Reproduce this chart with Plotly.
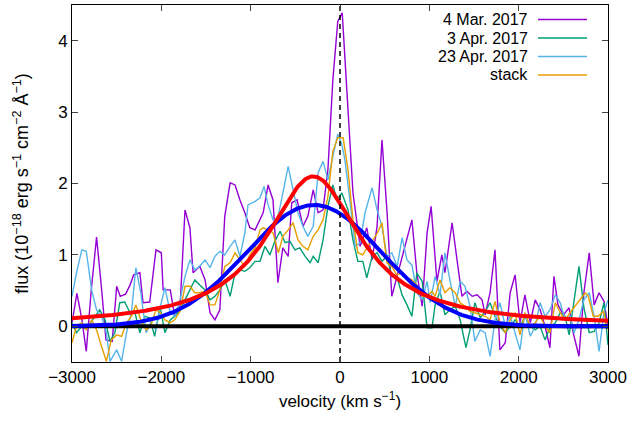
import plotly.graph_objects as go
import numpy as np

# ---------------- data ----------------
mar4_v = [-3000, -2945, -2890, -2840, -2785, -2725, -2665, -2620, -2550, -2500, -2460, -2400, -2350, -2310,
          -2240, -2205, -2130, -2060, -2000, -1980, -1900, -1850, -1790, -1735, -1680, -1645, -1570, -1510,
          -1455, -1400, -1345, -1290, -1230, -1175, -1120, -1065, -1010, -950, -860, -805, -750, -695, -640,
          -580, -540, -480, -415, -360, -300, -245, -190, -135, -80, -25, 25, 80, 145, 225, 300, 360, 415,
          470, 525, 580, 640, 695, 750, 805, 860, 920, 975, 1020, 1085, 1140, 1175, 1255, 1310, 1365, 1420,
          1480, 1535, 1590, 1625, 1680, 1735, 1790, 1850, 1905, 1960, 2015, 2070, 2130, 2185, 2240, 2295,
          2350, 2395, 2440, 2500, 2565, 2610, 2675, 2730, 2790, 2845, 2900, 2955, 3000]
mar4_f = [0.05, 0.46, 0.10, -0.35, 0.50, 1.25, 0.47, -0.19, -0.21, 0.56, 0.42, 0.45, 0.58, 0.72,
          0.75, 0.33, 0.34, 1.07, 1.03, 0.51, 0.51, 0.14, 0.28, 1.63, 1.38, 0.75, 0.84, 0.65,
          0.19, 0.09, 0.23, 1.54, 2.01, 1.98, 1.77, 1.59, 1.38, 1.35, 1.59, 1.98, 1.77, 0.61, 1.10,
          0.98, 1.73, 1.77, 1.40, 1.54, 1.91, 1.59, 1.63, 2.20, 3.45, 4.27, 4.39, 3.17, 1.87, 1.12, 1.38, 0.93, 1.40,
          2.61, 1.63, 0.42, 0.70, 0.96, 1.21, 1.49, 0.75, 0.28, 1.31, 1.68, 0.63, 1.00, 0.75, 1.45, 0.93, 0.42, 0.49,
          0.42, 0.44, 0.37, 0.16, 0.47, 1.07, -0.33, -0.23, 0.47, 0.72, 0.05, 0.44, 0.05, 0.37, 0.23, 0.00,
          -0.30, 0.70, 0.30, 0.16, 0.26, -0.09, -0.42, 0.47, 1.03, 0.30, 0.47, 0.35, 0.00]

apr3_v = [-3000, -2950, -2890, -2840, -2770, -2690, -2630, -2575, -2520, -2465, -2410, -2350, -2295, -2240,
          -2185, -2130, -2075, -2015, -1960, -1900, -1850, -1790, -1735, -1680, -1625, -1570, -1510, -1455,
          -1400, -1345, -1290, -1230, -1175, -1120, -1065, -1010, -950, -895, -840, -785, -730, -670, -615,
          -560, -505, -450, -390, -335, -300, -245, -190, -135, -80, -35, 20, 90, 145, 200, 255, 300, 360,
          415, 470, 525, 580, 640, 695, 750, 805, 860, 920, 975, 1030, 1065, 1120, 1175, 1230, 1290, 1345,
          1410, 1455, 1510, 1570, 1625, 1680, 1735, 1790, 1850, 1905, 1960, 2015, 2070, 2130, 2185, 2240,
          2295, 2350, 2410, 2465, 2520, 2565, 2620, 2675, 2730, 2790, 2845, 2900, 2955, 3000]
apr3_f = [0.05, -0.09, 0.00, -0.04, 0.09, 0.23, 0.09, -0.21, -0.09, 0.33, 0.34, 0.19, 0.19, -0.09,
          0.14, 0.12, -0.14, 0.28, -0.09, 0.09, 0.14, 0.23, 0.37, 0.51, 0.65, 0.58, 0.51, 0.37,
          0.42, 0.51, 0.65, 0.42, 0.75, 0.79, 0.77, 0.82, 0.91, 0.91, 1.12, 1.00, 1.19, 1.33, 1.17,
          1.19, 1.07, 1.10, 0.98, 0.89, 0.98, 0.89, 1.21, 1.68, 1.98, 1.77, 1.87, 1.63, 1.21, 0.91, 0.91, 0.68, 0.98,
          1.03, 0.91, 0.98, 0.70, 0.68, 0.44, 0.30, 0.14, 0.75, 0.63, -0.02, -0.02, 0.30, 0.49, 0.16, 0.23, 0.28, 0.09,
          -0.30, -0.05, 0.33, 0.12, 0.21, 0.33, 0.14, 0.00, -0.09, 0.00, 0.09, 0.00, 0.14, 0.00, -0.05, 0.00,
          -0.19, -0.02, 0.05, 0.19, 0.14, -0.12, 0.33, 0.84, 0.26, -0.09, -0.07, 0.05, 0.33, -0.26]

apr23_v = [-3000, -2950, -2890, -2840, -2780, -2725, -2670, -2615, -2575, -2500, -2445, -2390, -2335, -2285,
           -2230, -2170, -2120, -2060, -2010, -1960, -1900, -1850, -1790, -1735, -1680, -1625, -1570, -1510,
           -1455, -1400, -1345, -1290, -1230, -1175, -1120, -1065, -1030, -950, -895, -850, -805, -750, -700,
           -640, -580, -525, -470, -415, -360, -300, -245, -190, -135, -80, -25, 20, 55, 110, 170, 225, 280,
           360, 415, 470, 525, 580, 640, 695, 750, 805, 860, 920, 975, 1010, 1065, 1120, 1175, 1230, 1290,
           1345, 1400, 1455, 1510, 1570, 1625, 1680, 1735, 1790, 1850, 1905, 1960, 2015, 2070, 2130, 2185,
           2240, 2295, 2350, 2410, 2465, 2520, 2575, 2620, 2675, 2730, 2790, 2845, 2900, 2955, 3000]
apr23_f = [0.42, 0.75, 1.07, 1.05, 0.51, 0.23, 0.14, -0.09, -0.49, -0.33, -0.49, -0.09, 0.19, 0.82,
           0.47, -0.09, 0.05, -0.05, 0.28, 0.54, 0.19, 0.14, 0.37, 0.70, 0.93, 0.79, 0.84, 0.93,
           0.82, 0.98, 1.05, 1.00, 1.12, 1.21, 0.98, 1.31, 1.70, 1.75, 1.80, 1.96, 1.70, 1.49, 1.49,
           1.87, 2.24, 1.91, 1.59, 1.40, 1.26, 1.40, 2.15, 2.31, 2.05, 2.38, 2.69, 2.55, 2.33, 1.77, 1.12, 1.17, 1.59,
           1.94, 1.63, 1.40, 0.98, 1.03, 0.84, 1.24, 0.93, 0.86, 0.47, 0.37, 0.63, 0.33, 0.70, 0.44, 1.03, 0.65, 0.28,
           0.63, 0.56, 0.28, -0.21, -0.05, -0.09, -0.42, 0.09, 0.33, 0.00, 0.14, -0.09, -0.33, 0.19, -0.14, 0.00,
           0.33, 0.14, 0.23, 0.44, 0.33, 0.09, 0.14, -0.09, 0.09, 0.37, 0.47, 0.14, -0.35, 0.19, 0.37]

stack_v = [-3000, -2950, -2890, -2840, -2780, -2725, -2670, -2615, -2560, -2500, -2445, -2390, -2335, -2285,
           -2230, -2170, -2120, -2060, -2010, -1960, -1900, -1850, -1790, -1735, -1680, -1625, -1570, -1510,
           -1455, -1400, -1345, -1290, -1230, -1175, -1120, -1065, -1010, -950, -895, -860, -805, -750, -690,
           -640, -580, -525, -470, -415, -360, -300, -245, -190, -135, -80, -25, 35, 90, 145, 200, 255, 310,
           370, 420, 470, 525, 580, 635, 695, 750, 805, 860, 920, 975, 1030, 1065, 1120, 1175, 1230, 1290,
           1345, 1400, 1455, 1510, 1570, 1625, 1680, 1735, 1790, 1850, 1905, 1960, 2015, 2070, 2130, 2185,
           2240, 2295, 2350, 2410, 2465, 2520, 2575, 2630, 2690, 2745, 2780, 2835, 2890, 2950, 3000]
stack_f = [-0.23, 0.00, 0.05, -0.05, 0.09, -0.05, -0.28, -0.49, -0.19, -0.12, -0.14, 0.05, 0.14, 0.30,
           0.09, -0.05, 0.00, 0.23, 0.19, 0.09, 0.05, 0.09, 0.21, 0.56, 0.56, 0.47, 0.47, 0.49,
           0.30, 0.30, 0.51, 0.84, 0.89, 1.03, 0.93, 0.84, 1.00, 1.10, 1.35, 1.38, 1.35, 1.31, 1.03,
           1.26, 1.35, 1.45, 1.21, 1.12, 1.07, 1.26, 1.35, 1.49, 1.82, 2.45, 2.64, 2.64, 2.19, 1.49, 1.03, 1.00, 1.12,
           1.21, 1.31, 1.45, 0.89, 0.84, 0.72, 0.75, 0.68, 0.65, 0.58, 0.42, 0.42, 0.49, 0.42, 0.65, 0.47, 0.54, 0.47,
           0.33, 0.28, 0.21, 0.19, 0.16, 0.14, 0.09, 0.35, 0.05, -0.09, 0.09, 0.19, -0.12, 0.19, 0.00, 0.05,
           0.14, 0.00, -0.09, 0.33, 0.19, 0.09, 0.19, 0.28, 0.37, 0.47, 0.42, 0.14, 0.14, 0.21, -0.05]

# fitted-profile parameters (amplitude, centre km/s, width km/s)
gauss_fit = dict(amp=1.70, cen=-290.0, sigma=760.0)
lorentz_fit = dict(amp=2.10, cen=-300.0, gamma=640.0)

x_ticks = [-3000, -2000, -1000, 0, 1000, 2000, 3000]
y_ticks = [0, 1, 2, 3, 4]
x_range = [-3000, 3000]
y_range = [-0.5, 4.5]

series = [
    ("4 Mar. 2017", mar4_v, mar4_f, "#9400D3"),
    ("3 Apr. 2017", apr3_v, apr3_f, "#009E73"),
    ("23 Apr. 2017", apr23_v, apr23_f, "#56B4E9"),
    ("stack", stack_v, stack_f, "#E69F00"),
]

# ---------------- figure ----------------
FONT = "Liberation Sans, Arial, sans-serif"
fig = go.Figure()

for name, v, f, col in series:
    fig.add_trace(go.Scatter(x=v, y=f, mode="lines", name=name,
                             line=dict(color=col, width=1.4), showlegend=False))

vgrid = np.linspace(x_range[0], x_range[1], 601)
gauss = gauss_fit["amp"] * np.exp(-0.5 * ((vgrid - gauss_fit["cen"]) / gauss_fit["sigma"]) ** 2)
lorentz = lorentz_fit["amp"] / (1 + ((vgrid - lorentz_fit["cen"]) / lorentz_fit["gamma"]) ** 2)

fig.add_trace(go.Scatter(x=x_range, y=[0, 0], mode="lines",
                         line=dict(color="black", width=4), showlegend=False))
fig.add_trace(go.Scatter(x=vgrid, y=gauss, mode="lines",
                         line=dict(color="#0000FF", width=4), showlegend=False))
fig.add_trace(go.Scatter(x=vgrid, y=lorentz, mode="lines",
                         line=dict(color="#FF0000", width=4), showlegend=False))
fig.add_trace(go.Scatter(x=[0, 0], y=y_range, mode="lines",
                         line=dict(color="black", width=1.5, dash="5px,4px"), showlegend=False))

# gnuplot-style key: right-aligned text, sample line on the right
L, R, T, B = 72, 608, 5, 362
def px_x(p): return (p - L) / (R - L)
def px_y(p): return (B - p) / (B - T)
key_y = [19.5, 38, 56.5, 75]
for (name, _, _, col), ky in zip(series, key_y):
    fig.add_annotation(x=px_x(529), y=px_y(ky), xref="paper", yref="paper", text=name,
                       showarrow=False, xanchor="right", yanchor="middle", borderpad=0,
                       font=dict(family=FONT, size=16, color="black"))
    fig.add_shape(type="line", xref="paper", yref="paper",
                  x0=px_x(538), x1=px_x(587), y0=px_y(ky), y1=px_y(ky),
                  line=dict(color=col, width=1.4))

axis_common = dict(showline=True, linecolor="black", linewidth=1, mirror="allticks",
                   ticks="inside", ticklen=6, tickcolor="#444", tickwidth=1,
                   showgrid=False, zeroline=False,
                   tickfont=dict(family=FONT, size=17, color="black"))

fig.update_xaxes(range=x_range, tickvals=x_ticks, ticktext=[f"{t:d}".replace("-", "\u2212") for t in x_ticks],
                 title=dict(text="velocity (km s<sup>\u22121</sup>)", font=dict(family=FONT, size=17, color="black"),
                            standoff=8),
                 **axis_common)
fig.update_yaxes(range=y_range, tickvals=y_ticks,
                 title=dict(text="flux (10<sup>\u221218</sup> erg s<sup>\u22121</sup> cm<sup>\u22122</sup> \u00c5<sup>\u22121</sup>)",
                            font=dict(family=FONT, size=18, color="black"), standoff=24),
                 **axis_common)

fig.update_layout(width=633, height=423, margin=dict(l=72, r=25, t=5, b=61),
                  paper_bgcolor="white", plot_bgcolor="white",
                  font=dict(family=FONT, size=17, color="black"))

fig.write_html("out.html")
